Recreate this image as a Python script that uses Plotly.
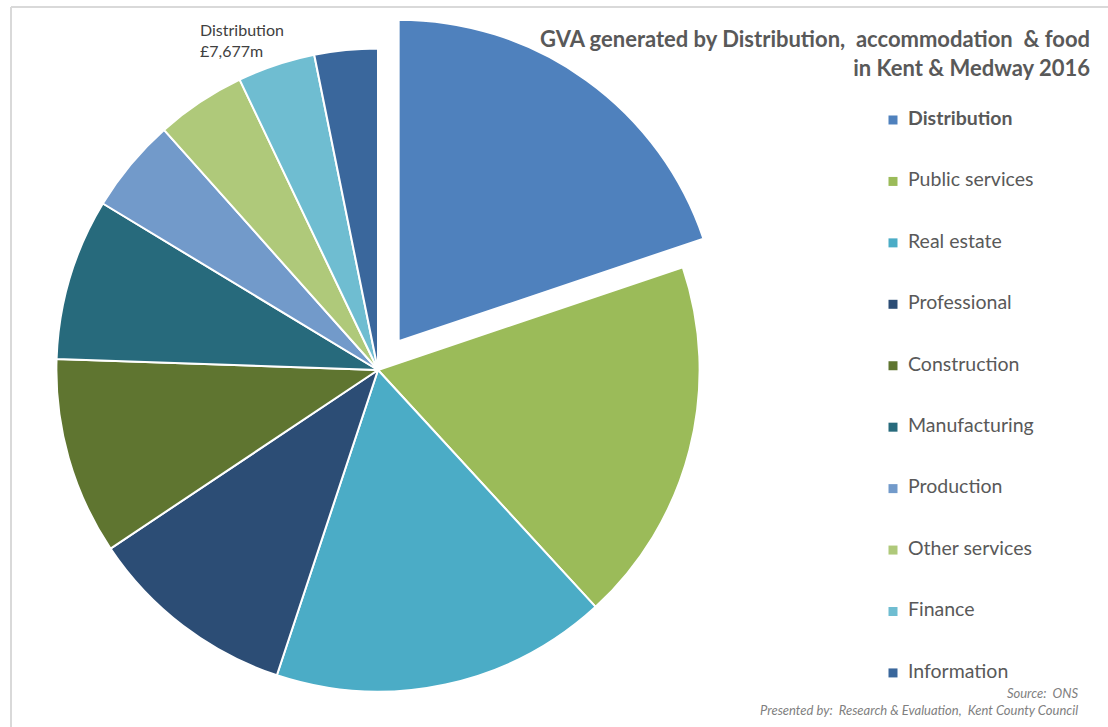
import plotly.graph_objects as go

# Data (GVA, £m, Kent & Medway 2016)
categories = ["Distribution", "Public services", "Real estate", "Professional",
              "Construction", "Manufacturing", "Production", "Other services",
              "Finance", "Information"]
values = [7677, 7100, 6550, 4080, 3840, 3140, 1840, 1745, 1510, 1230]
colors = ["#4F81BD", "#9BBB59", "#4BACC6", "#2C4D75", "#5F7530",
          "#276A7C", "#729ACA", "#AFC97A", "#6FBDD1", "#3A679C"]
pulls = [0.11, 0, 0, 0, 0, 0, 0, 0, 0, 0]

W, H = 1108, 727
FONT = "Lato"
TXT = "#595959"

fig = go.Figure()

fig.add_trace(go.Pie(
    labels=categories, values=values, sort=False, direction="clockwise",
    rotation=0, pull=pulls,
    marker=dict(colors=colors, line=dict(color="white", width=2)),
    textinfo="none", showlegend=False,
    domain=dict(x=[21 / W, 735 / W], y=[0, 714 / H]),
    hovertemplate="%{label}: £%{value:,}m<extra></extra>",
))

# Legend drawn as scatter traces on hidden axes
idx = list(range(len(categories)))
leg_text = ["<b>" + categories[0] + "</b>"] + categories[1:]
fig.add_trace(go.Scatter(
    x=[23] * len(categories), y=idx, mode="markers",
    marker=dict(symbol="square", size=9, color=colors),
    hoverinfo="skip", showlegend=False, cliponaxis=False,
))
fig.add_trace(go.Scatter(
    x=[38] * len(categories), y=idx, mode="text", text=leg_text,
    textposition="middle right",
    textfont=dict(family=FONT, size=19.5, color=TXT),
    hoverinfo="skip", showlegend=False, cliponaxis=False,
))

fig.update_layout(
    width=W, height=H, margin=dict(l=0, r=0, t=0, b=0),
    paper_bgcolor="white", plot_bgcolor="rgba(0,0,0,0)",
    font=dict(family=FONT, color=TXT),
    xaxis=dict(domain=[870 / W, 1], range=[0, 238], visible=False, fixedrange=True),
    yaxis=dict(domain=[0, 1], range=[9.88, -1.953], visible=False, fixedrange=True),
    shapes=[
        dict(type="line", xref="paper", yref="paper", x0=11 / W, x1=1, y0=1 - 7 / H, y1=1 - 7 / H,
             line=dict(color="#D9D9D9", width=2)),
        dict(type="line", xref="paper", yref="paper", x0=11 / W, x1=11 / W, y0=0, y1=1 - 7 / H,
             line=dict(color="#D9D9D9", width=2)),
    ],
    annotations=[
        dict(xref="paper", yref="paper", x=1092 / W, y=1 - 23 / H, xanchor="right", yanchor="top",
             align="right", showarrow=False,
             text="<b>GVA generated by Distribution,  accommodation  & food<br>in Kent & Medway 2016</b>",
             font=dict(family=FONT, size=22, color=TXT)),
        dict(xref="paper", yref="paper", x=198 / W, y=1 - 18 / H, xanchor="left", yanchor="top",
             align="left", showarrow=False,
             text=f"{categories[0]}<br>£{values[0]:,}m",
             font=dict(family=FONT, size=16, color="#404040")),
        dict(xref="paper", yref="paper", x=1081 / W, y=1 - 683 / H, xanchor="right", yanchor="top",
             align="right", showarrow=False,
             text="<i>Source:  ONS</i><br><i>Presented by:  Research & Evaluation,  Kent County Council</i>",
             font=dict(family=FONT, size=13, color="#7F7F7F")),
    ],
)

fig.write_html("out.html")
